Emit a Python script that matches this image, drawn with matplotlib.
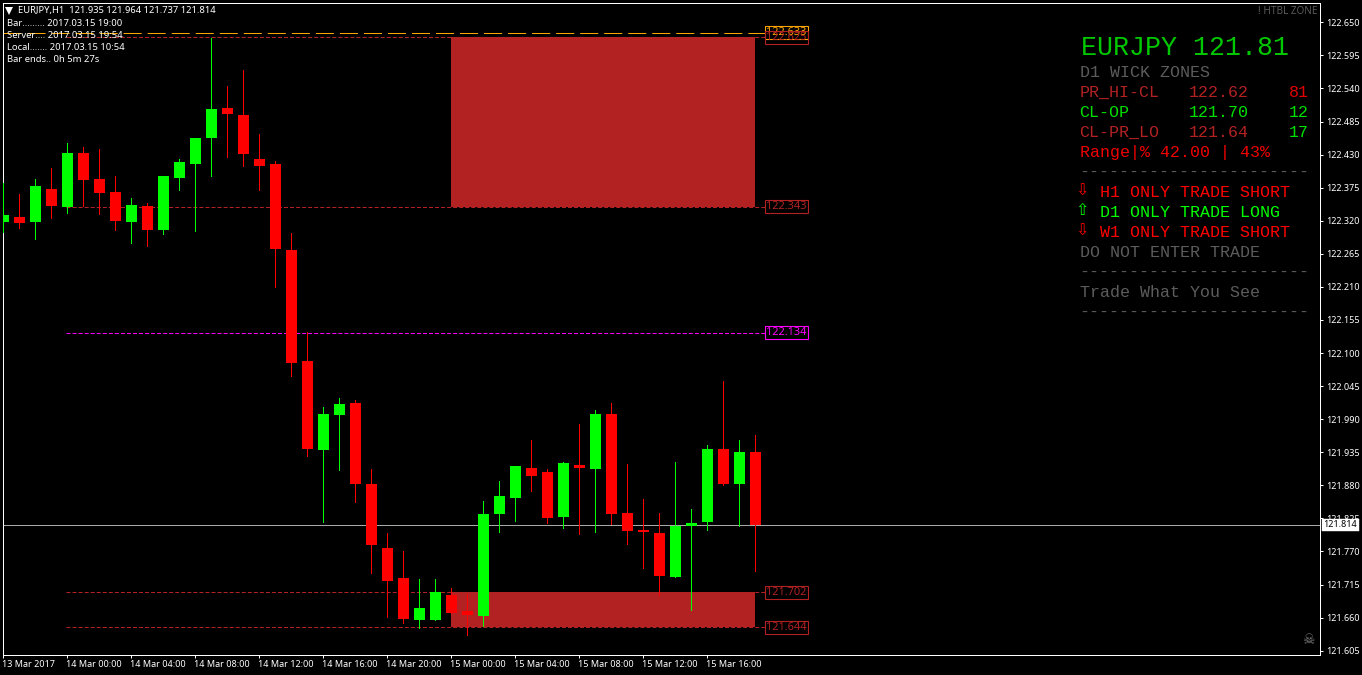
import matplotlib
matplotlib.use("Agg")
import matplotlib.pyplot as plt
from matplotlib.patches import Rectangle
from matplotlib.transforms import blended_transform_factory, IdentityTransform, ScaledTranslation

plt.rcParams['lines.scale_dashes'] = False

# ---------- data ----------
opens = [122.318,122.326,122.318,122.373,122.343,122.433,122.389,122.368,122.318,122.345,
         122.305,122.391,122.414,122.458,122.508,122.496,122.423,122.414,122.271,122.087,
         121.939,121.997,122.017,121.882,121.776,121.726,121.656,121.656,121.698,121.671,
         121.663,121.832,121.859,121.909,121.902,121.827,121.914,121.907,121.999,121.834,
         121.806,121.801,121.727,121.813,121.819,121.940,121.882,121.935]
highs = [122.383,122.364,122.389,122.408,122.449,122.443,122.439,122.394,122.358,122.350,
         122.394,122.423,122.458,122.624,122.544,122.571,122.464,122.419,122.300,122.135,
         122.010,122.025,122.022,121.907,121.801,121.771,121.724,121.724,121.709,121.700,
         121.854,121.887,121.912,121.955,121.907,121.919,121.982,122.005,122.017,121.915,
         121.857,121.834,121.919,121.841,121.947,122.053,121.955,121.964]
lows  = [122.301,122.308,122.290,122.325,122.333,122.345,122.331,122.305,122.283,122.278,
         122.298,122.371,122.303,122.394,122.426,122.411,122.371,122.210,122.062,121.929,
         121.819,121.905,121.852,121.734,121.661,121.651,121.643,121.656,121.668,121.631,
         121.646,121.802,121.821,121.871,121.817,121.809,121.799,121.802,121.816,121.782,
         121.742,121.698,121.727,121.673,121.806,121.881,121.813,121.737]
closes = [122.330,122.316,122.378,122.345,122.433,122.388,122.366,122.320,122.346,122.305,
          122.394,122.418,122.458,122.506,122.498,122.431,122.411,122.273,122.083,121.940,
          121.999,122.015,121.882,121.781,121.721,121.658,121.676,121.702,121.668,121.664,
          121.832,121.862,121.912,121.895,121.826,121.917,121.909,121.999,121.832,121.804,
          121.802,121.729,121.813,121.817,121.940,121.882,121.935,121.814]

y_ticks = [122.650,122.595,122.540,122.485,122.430,122.375,122.320,122.265,122.210,122.155,
           122.100,122.045,121.990,121.935,121.880,121.825,121.770,121.715,121.660,121.605]
x_tick_pos = [0,4,8,12,16,20,24,28,32,36,40,44]
x_tick_labels = ['13 Mar 2017','14 Mar 00:00','14 Mar 04:00','14 Mar 08:00','14 Mar 12:00',
                 '14 Mar 16:00','14 Mar 20:00','15 Mar 00:00','15 Mar 04:00','15 Mar 08:00',
                 '15 Mar 12:00','15 Mar 16:00']

level_top = 122.633
zone_hi = [122.625, 122.343]
zone_lo = [121.702, 121.644]
level_mid = 122.134
bid = 121.814
zone_start, zone_end = 28, 47
line_start = 4

header = ['Bar......... 2017.03.15 19:00', 'Server.... 2017.03.15 19:54',
          'Local....... 2017.03.15 10:54', 'Bar ends.. 0h 5m 27s']

# ---------- style ----------
W, H = 1362, 675
L, R, T, B = 2.5, 1319.5, 2.5, 654.5
BULL, BEAR, ZONE = '#00FF00', '#FF0000', '#B22222'
MAG = '#FF00FF'; ORG = '#FFA500'; GREY = '#5C5C5C'
SANS = ['Noto Sans', 'DejaVu Sans']
MONO = ['Liberation Mono', 'DejaVu Sans Mono']
PX1 = 0.72
TICKFS = 6.5

fig = plt.figure(figsize=(W/100, H/100), dpi=100, facecolor='black')
ax = fig.add_axes([L/W, 1-B/H, (R-L)/W, (B-T)/H], facecolor='black')
ax.set_xlim((L-3.3)/16, (R-3.3)/16)
ax.set_ylim(122.65-(B-22.3)/601.3, 122.65+(22.3-T)/601.3)

for s in ax.spines.values():
    s.set_color('white'); s.set_linewidth(PX1)

ax.yaxis.tick_right()
ax.set_yticks(y_ticks)
ax.set_yticklabels([f'{v:.3f}' for v in y_ticks], family=SANS, fontsize=TICKFS, color='white')
ax.set_xticks(x_tick_pos)
ax.set_xticklabels(x_tick_labels, family=SANS, fontsize=TICKFS, color='white', ha='left')
ax.tick_params(axis='y', colors='white', length=2.2, width=PX1, pad=2.5)
ax.tick_params(axis='x', colors='white', length=2.2, width=PX1, pad=2)
for lab in ax.get_xticklabels():
    lab.set_transform(lab.get_transform() + ScaledTranslation(-1.5/100, 0, fig.dpi_scale_trans))

# zones
for lo, hi in (zone_hi[::-1], zone_lo[::-1]):
    ax.add_patch(Rectangle((zone_start, lo), zone_end-zone_start, hi-lo, facecolor=ZONE,
                           edgecolor='none', antialiased=False, zorder=1))

# levels
dash_red = (0, (2.9, 1.45))
for v in zone_hi + zone_lo:
    ax.plot([line_start-0.1, 47.65], [v, v], color=ZONE, lw=PX1, ls=dash_red, zorder=1.5, snap=True)
ax.plot([line_start-0.1, 47.65], [level_mid]*2, color=MAG, lw=PX1, ls=dash_red, zorder=1.5, snap=True)
ax.plot([-0.05, 47.65], [level_top]*2, color=ORG, lw=PX1, ls=(0,(13,4.3)), zorder=1.5, snap=True)
ax.axhline(bid, color='#A8A8A8', lw=PX1, zorder=2, snap=True)

# candles
for i, (o, h, l, c) in enumerate(zip(opens, highs, lows, closes)):
    col = BULL if c >= o else BEAR
    ax.vlines(i, l, h, color=col, lw=PX1, zorder=3, antialiased=False)
    ax.bar(i, abs(c-o), bottom=min(o, c), width=11/16, color=col, linewidth=0, antialiased=False, zorder=4)

# boxed labels
bt = blended_transform_factory(IdentityTransform(), ax.transData)
def tag(v, col, fc='black'):
    ax.text(786.5, v, f'{v:.3f}', transform=bt, ha='center', va='center', color=col, family=SANS,
            fontsize=7.9, zorder=6, clip_on=False,
            bbox=dict(boxstyle='square,pad=0.1', fc=fc, ec=col, lw=PX1*1.1))
tag(level_top, ORG, 'black')
tag(zone_hi[0], ZONE, 'none')
tag(zone_hi[1], ZONE)
tag(level_mid, MAG)
tag(zone_lo[0], ZONE)
tag(zone_lo[1], ZONE)

# bid tag on axis
ax.text(1340.5, bid, f'{bid:.3f}', transform=bt, ha='center', va='center', color='black', family=SANS,
        fontsize=TICKFS, zorder=7, clip_on=False,
        bbox=dict(boxstyle='square,pad=0.18', fc='white', ec='white', lw=0.3))

def t(x, y, s, **kw):
    kw.setdefault('va', 'center')
    fig.text(x/W, 1-y/H, s, **kw)

# top-left header
ax.plot([(9.3-3.3)/16], [122.65+(22.3-10.8)/601.3], marker='v', ms=6, color='white', mew=0, zorder=8)
t(18, 10.5, 'EURJPY,H1  121.935 121.964 121.737 121.814', family=SANS, fontsize=6.75, color='white')
for y, s in zip((23.5, 35.5, 47.5, 59.5), header):
    t(7, y, s, family=SANS, fontsize=6.8, color='white', zorder=9)

# watermark + skull
t(1318, 11, '! HTBL ZONE', ha='right', family=SANS, fontsize=7.2, color='#5A5A5A', fontweight='bold')
t(1308.5, 640, '\u2620', ha='center', family='DejaVu Sans', fontsize=10, color='#7A7A7A')

# right panel
m = dict(family=MONO, fontsize=12)
t(1081, 48, 'EURJPY 121.81', family=MONO, fontsize=19.2, color='#00C800')
t(1079.5, 72.5, 'D1 WICK ZONES', color=GREY, **m)
t(1079.5, 92.5, 'PR_HI-CL', color=ZONE, **m)
t(1189, 92.5, '122.62', color=ZONE, **m)
t(1289, 92.5, '81', color='#E00000', **m)
t(1079.5, 112.5, 'CL-OP', color='#00E000', **m)
t(1189, 112.5, '121.70', color='#00E000', **m)
t(1289, 112.5, '12', color='#00E000', **m)
t(1079.5, 132.5, 'CL-PR_LO', color=ZONE, **m)
t(1189, 132.5, '121.64', color=ZONE, **m)
t(1289, 132.5, '17', color='#00E000', **m)
t(1079.5, 152.5, 'Range|% 42.00 | 43%', color='#F00000', **m)
rule = '-' * 23
for y in (172.5, 272.5, 312.5):
    t(1079.5, y, rule, color=GREY, **m)
arrow = dict(ha='center', family='DejaVu Sans', fontsize=11.5)
t(1082, 191, '\u21E9', color=BEAR, **arrow)
t(1099.5, 192.5, 'H1 ONLY TRADE SHORT', color=BEAR, **m)
t(1082, 211, '\u21E7', color=BULL, **arrow)
t(1099.5, 212.5, 'D1 ONLY TRADE LONG', color=BULL, **m)
t(1082, 231, '\u21E9', color=BEAR, **arrow)
t(1099.5, 232.5, 'W1 ONLY TRADE SHORT', color=BEAR, **m)
t(1079.5, 252.5, 'DO NOT ENTER TRADE', color=GREY, **m)
t(1079.5, 292.5, 'Trade What You See', color=GREY, **m)

fig.savefig('out.png', dpi=100, facecolor='black')
